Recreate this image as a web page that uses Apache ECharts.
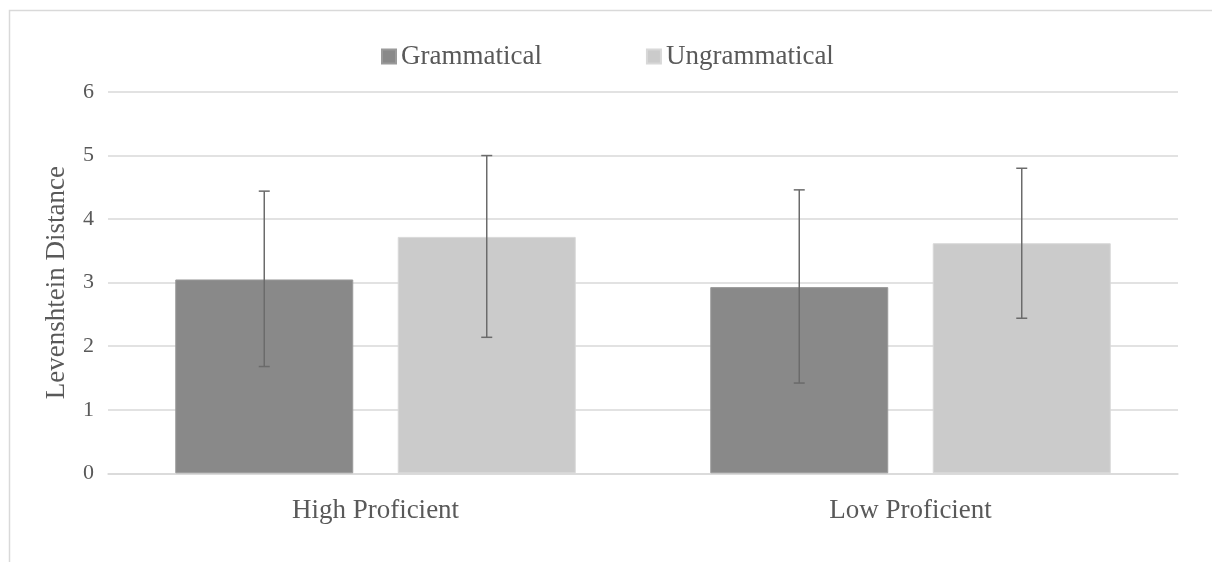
<!DOCTYPE html>
<html>
<head>
<meta charset="utf-8">
<title>Levenshtein Distance by Proficiency</title>
<script src="https://cdn.jsdelivr.net/npm/echarts@6/dist/echarts.min.js"></script>
<style>
  html, body { margin: 0; padding: 0; background: #ffffff; }
  #chart { width: 1212px; height: 562px; }
</style>
</head>
<body>
<div id="chart"></div>
<script>
// Proficiency groups on the x axis
const categories = ['High Proficient', 'Low Proficient'];

// Mean Levenshtein distance per group
const grammaticalMeans = [3.05, 2.93];
const ungrammaticalMeans = [3.72, 3.62];

// Error bar ends (lower, upper)
const grammaticalLow = [1.68, 1.42];
const grammaticalHigh = [4.44, 4.46];
const ungrammaticalLow = [2.14, 2.44];
const ungrammaticalHigh = [5.00, 4.80];

// Y axis ticks
const yTicks = [0, 1, 2, 3, 4, 5, 6];

const textColor = '#595959';
const gridColor = '#d9d9d9';
const fontFamily = '"Liberation Serif", "Times New Roman", serif';

const BAR_WIDTH_FRAC = 0.3327; // bar width as share of a category band
const BAR_GAP_FRAC = 0.25;     // gap between the two bars, as share of bar width

function errorData(low, high) {
  return categories.map((c, i) => [i, low[i], high[i]]);
}

// Draws a whisker with caps, shifted to sit over its own bar in the group
function makeErrorRenderer(side) {
  return function (params, api) {
    const idx = api.value(0);
    const lowPt = api.coord([idx, api.value(1)]);
    const highPt = api.coord([idx, api.value(2)]);
    const band = api.size([1, 0])[0];
    const barW = band * BAR_WIDTH_FRAC;
    const x = lowPt[0] + side * barW * (1 + BAR_GAP_FRAC) / 2;
    const cap = 5.5;
    const style = { stroke: '#6b6b6b', lineWidth: 1.5 };
    return {
      type: 'group',
      children: [
        { type: 'line', shape: { x1: x, y1: highPt[1], x2: x, y2: lowPt[1] }, style: style },
        { type: 'line', shape: { x1: x - cap, y1: highPt[1], x2: x + cap, y2: highPt[1] }, style: style },
        { type: 'line', shape: { x1: x - cap, y1: lowPt[1], x2: x + cap, y2: lowPt[1] }, style: style }
      ]
    };
  };
}

const chart = echarts.init(document.getElementById('chart'), null, { renderer: 'canvas' });

chart.setOption({
  backgroundColor: '#ffffff',
  animation: false,
  textStyle: { fontFamily: fontFamily, color: textColor },
  graphic: [{
    type: 'rect',
    left: 7, top: 8,
    shape: { width: 1400, height: 800 },
    style: { fill: 'none', stroke: gridColor, lineWidth: 1.5 },
    silent: true
  }],
  legend: {
    left: 376,
    top: 38,
    itemWidth: 14,
    itemHeight: 14,
    itemGap: 104,
    icon: 'rect',
    textStyle: { fontFamily: fontFamily, fontSize: 27, color: textColor },
    data: ['Grammatical', 'Ungrammatical']
  },
  grid: { left: 108, right: 34, top: 92, bottom: 88.7, containLabel: false },
  xAxis: {
    type: 'category',
    data: categories,
    axisLine: { show: true, lineStyle: { color: gridColor, width: 1.5 } },
    axisTick: { show: false },
    axisLabel: { fontFamily: fontFamily, fontSize: 27, color: textColor, margin: 24 }
  },
  yAxis: {
    type: 'value',
    min: yTicks[0],
    max: yTicks[yTicks.length - 1],
    interval: 1,
    name: 'Levenshtein Distance',
    nameLocation: 'middle',
    nameGap: 38,
    nameRotate: 90,
    nameTextStyle: { fontFamily: fontFamily, fontSize: 27, color: textColor },
    axisLine: { show: false },
    axisTick: { show: false },
    axisLabel: { fontFamily: fontFamily, fontSize: 22, color: textColor, margin: 14 },
    splitLine: { lineStyle: { color: gridColor, width: 1.5 } }
  },
  series: [
    {
      name: 'Grammatical',
      type: 'bar',
      data: grammaticalMeans,
      barWidth: (BAR_WIDTH_FRAC * 100) + '%',
      barGap: (BAR_GAP_FRAC * 100) + '%',
      itemStyle: { color: '#898989', borderColor: '#9a9a9a', borderWidth: 1 }
    },
    {
      name: 'Ungrammatical',
      type: 'bar',
      data: ungrammaticalMeans,
      barWidth: (BAR_WIDTH_FRAC * 100) + '%',
      barGap: (BAR_GAP_FRAC * 100) + '%',
      itemStyle: { color: '#cbcbcb', borderColor: '#d8d8d8', borderWidth: 1 }
    },
    {
      type: 'custom',
      name: 'Grammatical error',
      data: errorData(grammaticalLow, grammaticalHigh),
      renderItem: makeErrorRenderer(-1),
      encode: { x: 0, y: [1, 2] },
      z: 5,
      silent: true
    },
    {
      type: 'custom',
      name: 'Ungrammatical error',
      data: errorData(ungrammaticalLow, ungrammaticalHigh),
      renderItem: makeErrorRenderer(1),
      encode: { x: 0, y: [1, 2] },
      z: 5,
      silent: true
    }
  ]
});
</script>
</body>
</html>
